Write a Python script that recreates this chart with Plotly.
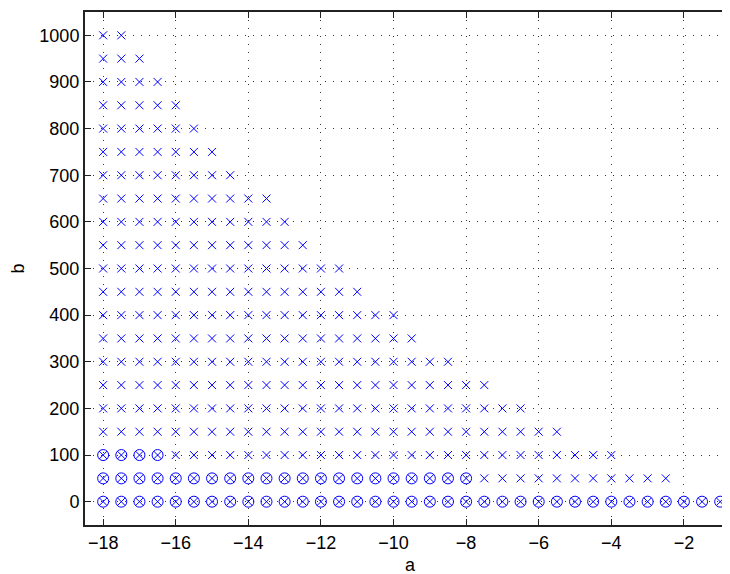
import plotly.graph_objects as go

# b levels and the largest a value that carries an "x" marker on each level
b_levels = [0, 50, 100, 150, 200, 250, 300, 350, 400, 450, 500,
            550, 600, 650, 700, 750, 800, 850, 900, 950, 1000]
x_max_a = [-1, -2.5, -4, -5.5, -6.5, -7.5, -8.5, -9.5, -10, -11, -11.5,
           -12.5, -13, -13.5, -14.5, -15, -15.5, -16, -16.5, -17, -17.5]

# levels that also carry circle markers, and their largest a value
circle_b = [0, 50, 100]
circle_max_a = [-1, -8, -16.5]

a_start = -18
a_step = 0.5

x_ticks = [-18, -16, -14, -12, -10, -8, -6, -4, -2]
y_ticks = [0, 100, 200, 300, 400, 500, 600, 700, 800, 900, 1000]


def grid_points(levels, max_vals):
    xs, ys = [], []
    for b, amax in zip(levels, max_vals):
        n = int(round((amax - a_start) / a_step)) + 1
        for i in range(n):
            xs.append(a_start + i * a_step)
            ys.append(b)
    return xs, ys


xa, xb = grid_points(b_levels, x_max_a)
ca, cb = grid_points(circle_b, circle_max_a)

fig = go.Figure()
fig.add_trace(go.Scatter(
    x=ca, y=cb, mode="markers",
    marker=dict(symbol="circle-open", size=11, color="#0000ff",
                line=dict(width=1, color="#0000ff")),
    showlegend=False, hoverinfo="skip"))
fig.add_trace(go.Scatter(
    x=xa, y=xb, mode="markers",
    marker=dict(symbol="x-thin-open", size=8, color="#0000ff",
                line=dict(width=1, color="#0000ff")),
    showlegend=False, hoverinfo="skip"))

font = dict(family="Liberation Sans, Arial, Helvetica, sans-serif", size=18, color="black")

fig.update_layout(
    width=722, height=566,
    margin=dict(l=77, r=0, t=4, b=49),
    paper_bgcolor="white", plot_bgcolor="white",
    font=font,
    xaxis=dict(range=[-18.5, -0.73], tickvals=x_ticks,
               ticktext=["\u2212" + str(abs(v)) for v in x_ticks],
               showgrid=True, gridcolor="#333333", griddash="1px,7px", gridwidth=1,
               zeroline=False, showline=True, linecolor="#222222", linewidth=2,
               mirror="ticks", ticks="inside", ticklen=6, tickwidth=1, tickcolor="#222222",
               tickfont=font),
    yaxis=dict(range=[-50, 1050], tickvals=y_ticks,
               showgrid=True, gridcolor="#333333", griddash="1px,7px", gridwidth=1,
               zeroline=False, showline=True, linecolor="#222222", linewidth=2,
               mirror=False, ticks="inside", ticklen=6, tickwidth=1, tickcolor="#222222",
               tickfont=font),
    annotations=[
        dict(text="a", xref="paper", yref="paper", x=0.5054, y=-0.078,
             xanchor="center", yanchor="middle", showarrow=False, font=font),
        dict(text="b", xref="paper", yref="paper", x=-0.104, y=0.5,
             xanchor="center", yanchor="middle", showarrow=False, font=font,
             textangle=-90),
    ],
)

fig.write_html("out.html")
